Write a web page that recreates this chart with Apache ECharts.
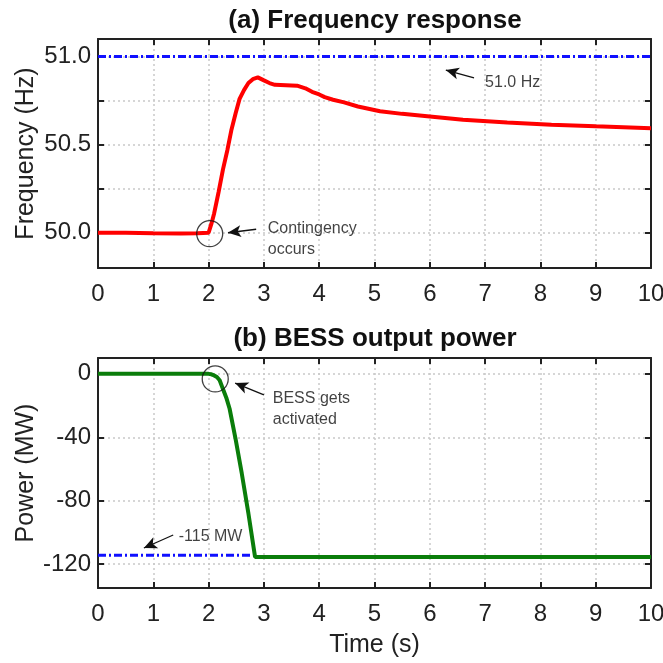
<!DOCTYPE html>
<html>
<head>
<meta charset="utf-8">
<script src="https://cdn.jsdelivr.net/npm/echarts@6/dist/echarts.min.js"></script>
<style>
  html, body { margin: 0; padding: 0; background: #fff; }
  #chart { width: 663px; height: 663px; }
</style>
</head>
<body>
<div id="chart"></div>
<script>
// time axis ticks
var timeTicks = [0, 1, 2, 3, 4, 5, 6, 7, 8, 9, 10];

// (a) frequency response
var freqTime = [0, 0.5, 1.0, 1.5, 1.8, 2.0, 2.05, 2.1, 2.18, 2.26, 2.34, 2.41, 2.49, 2.56, 2.64, 2.72, 2.8, 2.89,
    3.0, 3.1, 3.2, 3.4, 3.6, 3.75, 3.87, 4.0, 4.1, 4.25, 4.45, 4.7, 5.1, 5.5, 6.0, 6.6, 7.4, 8.2, 9.0, 10.0];
var freqHz = [50.0, 50.0, 49.997, 49.996, 49.997, 50.0, 50.05, 50.11, 50.23, 50.36, 50.47, 50.58, 50.68, 50.76, 50.81, 50.85, 50.872, 50.882,
    50.865, 50.85, 50.84, 50.838, 50.835, 50.82, 50.80, 50.785, 50.77, 50.755, 50.74, 50.717, 50.69, 50.675, 50.66, 50.642, 50.626, 50.613, 50.604, 50.594];
var freqLimitTime = [0, 10];
var freqLimit = [51.0, 51.0];
var freqTicks = [50.0, 50.25, 50.5, 50.75, 51.0];
var freqLabels = [50.0, 50.5, 51.0];

// (b) BESS output power
var powTime = [0, 1, 2.0, 2.05, 2.1, 2.15, 2.2, 2.26, 2.32, 2.38, 2.49, 2.6, 2.72, 2.84, 3, 5, 10];
var powMW = [0, 0, 0, -0.3, -1, -2, -4, -9.6, -15, -22, -41.5, -62.8, -88, -115.4, -115.4, -115.4, -115.4];
var powLimitTime = [0, 2.84];
var powLimit = [-114.3, -114.3];
var powTicks = [-120, -80, -40, 0];

// annotations (data coordinates)
var freqEvent = [2.02, 49.995];
var freqNote = { tail: [2.86, 50.02], tip: [2.35, 50.0], text: [3.07, 49.965] };
var limitNote = { tail: [6.8, 50.879], tip: [6.29, 50.924], text: [7.0, 50.85] };
var powEvent = [2.12, -3.2];
var powNote = { tail: [3.0, -13.3], tip: [2.48, -5.8], text: [3.16, -22.2] };
var powLimitNote = { tail: [1.36, -101.6], tip: [0.83, -109.8], text: [1.46, -102.5] };

function zip(a, b) {
    return a.map(function(v, i) { return [v, b[i]]; });
}

var FONT = "'Liberation Sans', Arial, sans-serif";
var gridLine = { show: true, lineStyle: { color: '#c9c9c9', type: [2, 3], width: 1.5 } };
var tick = { show: true, inside: true, length: 6, lineStyle: { color: '#222', width: 2 } };
var line = { show: true, onZero: false, lineStyle: { color: '#222', width: 2 } };

function xAxes(grid, labels) {
    return [{
        type: 'value', gridIndex: grid, min: 0, max: 10, interval: 1, position: 'bottom',
        axisLine: line, axisTick: tick, splitLine: gridLine,
        axisLabel: { color: '#222', fontSize: 24, fontFamily: FONT, margin: 14 },
        name: labels ? 'Time (s)' : '', nameLocation: 'middle', nameGap: 45, nameMoveOverlap: false,
        nameTextStyle: { color: '#222', fontSize: 25, fontFamily: FONT }
    }, {
        type: 'value', gridIndex: grid, min: 0, max: 10, interval: 1, position: 'top',
        axisLine: line, axisTick: tick, splitLine: { show: false }, axisLabel: { show: false }
    }];
}

function yAxes(grid, min, max, ticks, labels, fmt, name) {
    return [{
        type: 'value', gridIndex: grid, min: min, max: max, position: 'left',
        axisLine: line,
        axisTick: Object.assign({ customValues: ticks }, tick),
        splitLine: gridLine,
        axisLabel: { customValues: labels, formatter: fmt, color: '#222', fontSize: 24, fontFamily: FONT, margin: 7 },
        name: name, nameLocation: 'middle', nameGap: 59, nameMoveOverlap: false,
        nameTextStyle: { color: '#222', fontSize: 25, fontFamily: FONT }
    }, {
        type: 'value', gridIndex: grid, min: min, max: max, position: 'right',
        axisLine: line,
        axisTick: Object.assign({ customValues: ticks }, tick),
        splitLine: { show: false }, axisLabel: { show: false }
    }];
}

function arrow(note, xi, yi) {
    return {
        type: 'line', xAxisIndex: xi, yAxisIndex: yi, data: [], silent: true,
        markLine: {
            silent: true, animation: false,
            symbol: ['none', 'arrow'], symbolSize: [9, 13],
            lineStyle: { color: '#111', width: 1.3, type: 'solid' },
            label: { show: false },
            data: [[{ coord: note.tail }, { coord: note.tip }]]
        }
    };
}

function note(pos, text, xi, yi) {
    return {
        type: 'scatter', xAxisIndex: xi, yAxisIndex: yi, symbolSize: 0, silent: true,
        data: [pos],
        label: {
            show: true, position: 'right', distance: 0, formatter: text,
            color: '#111', fontSize: 16, fontFamily: FONT, lineHeight: 21
        }
    };
}

function ring(pos, xi, yi) {
    return {
        type: 'scatter', xAxisIndex: xi, yAxisIndex: yi, symbol: 'circle', symbolSize: 26, silent: true,
        data: [pos], z: 5,
        itemStyle: { color: 'rgba(0,0,0,0)', borderColor: '#111', borderWidth: 1.3 }
    };
}

var option = {
    animation: false,
    backgroundColor: '#fff',
    title: [
        { text: '(a) Frequency response', left: 375, top: 8, padding: 0, textAlign: 'center',
          textStyle: { fontSize: 26, fontWeight: 'bold', color: '#111', fontFamily: FONT } },
        { text: '(b) BESS output power', left: 375, top: 326, padding: 0, textAlign: 'center',
          textStyle: { fontSize: 26, fontWeight: 'bold', color: '#111', fontFamily: FONT } }
    ],
    grid: [
        { left: 98, right: 12, top: 39, height: 229, outerBoundsMode: 'none' },
        { left: 98, right: 12, top: 358, height: 230, outerBoundsMode: 'none' }
    ],
    xAxis: xAxes(0, false).concat(xAxes(1, true)),
    yAxis: yAxes(0, 49.8, 51.1, freqTicks, freqLabels, function(v) { return v.toFixed(1); }, 'Frequency (Hz)')
        .concat(yAxes(1, -135, 10, powTicks, powTicks, function(v) { return String(v); }, 'Power (MW)')),
    series: [
        {
            type: 'line', xAxisIndex: 0, yAxisIndex: 0, data: zip(freqLimitTime, freqLimit),
            showSymbol: false, lineStyle: { color: '#1010ff', width: 3, type: [8, 3, 2, 3] }
        },
        {
            type: 'line', xAxisIndex: 0, yAxisIndex: 0, data: zip(freqTime, freqHz),
            showSymbol: false, lineStyle: { color: '#ff0000', width: 4 }, z: 3
        },
        {
            type: 'line', xAxisIndex: 2, yAxisIndex: 2, data: zip(powLimitTime, powLimit),
            showSymbol: false, lineStyle: { color: '#1010ff', width: 3, type: [8, 3, 2, 3] }
        },
        {
            type: 'line', xAxisIndex: 2, yAxisIndex: 2, data: zip(powTime, powMW),
            showSymbol: false, lineStyle: { color: '#0a7d0a', width: 4 }, z: 3
        },
        ring(freqEvent, 0, 0),
        arrow(freqNote, 0, 0),
        note(freqNote.text, 'Contingency\noccurs', 0, 0),
        arrow(limitNote, 0, 0),
        note(limitNote.text, '51.0 Hz', 0, 0),
        ring(powEvent, 2, 2),
        arrow(powNote, 2, 2),
        note(powNote.text, 'BESS gets\nactivated', 2, 2),
        arrow(powLimitNote, 2, 2),
        note(powLimitNote.text, '-115 MW', 2, 2)
    ]
};

var myChart = echarts.init(document.getElementById('chart'));
myChart.setOption(option);
</script>
</body>
</html>
